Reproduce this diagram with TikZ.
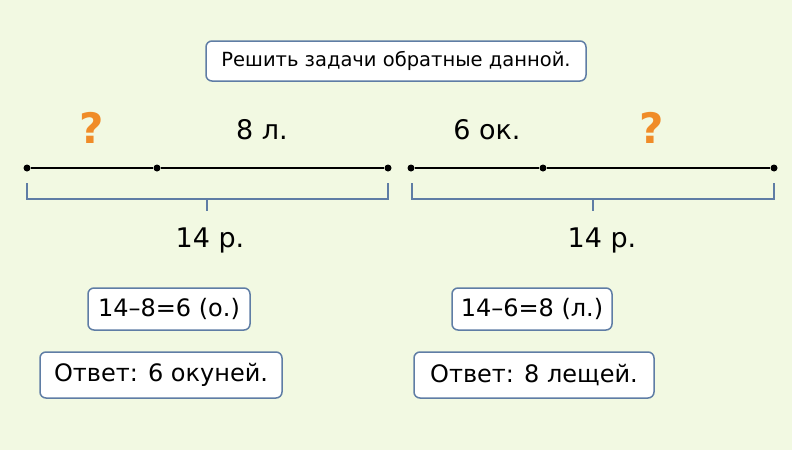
\documentclass[tikz,border=0pt]{standalone}
\usepackage{fontspec}
\setmainfont{DejaVu Sans}
\usetikzlibrary{positioning}
\definecolor{bg}{RGB}{242,249,226}
\definecolor{frame}{RGB}{95,125,165}
\definecolor{qcol}{RGB}{240,140,40}
\tikzset{
  box/.style={draw=frame,line width=1.5pt,fill=white,rounded corners=6pt,inner sep=4pt,font=\fontsize{24}{26}\selectfont},
  lbl/.style={font=\fontsize{27}{30}\selectfont},
  pt/.style={circle,fill=black,inner sep=0pt,minimum size=7pt},
  quest/.style={text=qcol,font=\bfseries\fontsize{42}{44}\selectfont},
  brace/.style={draw=frame,line width=1.8pt}
}
\begin{document}
\begin{tikzpicture}[x=1pt,y=-1pt]
\fill[bg] (0,0) rectangle (792,450);
\useasboundingbox (0,0) rectangle (792,450);

% Title
\node[box,font=\fontsize{19.5}{22}\selectfont,minimum width=380pt,minimum height=40pt] (title) at (396,61) {Решить задачи обратные данной.};

% Left segment
\node[pt] (a1) at (27,168) {};
\node[pt] (a2) at (157,168) {};
\node[pt] (a3) at (388,168) {};
\draw[line width=1.8pt] (a1) -- (a2) -- (a3);
\node[quest] (qa) at (92,128) {?};
\node[lbl] (la) at (262,130) {8 л.};
\draw[brace] (27,183) |- (207,199) -- (388,199) -- (388,183);
\draw[brace] (207,199) -- (207,211);
\node[lbl] (sa) at (210,240) {14 р.};

% Right segment
\node[pt] (b1) at (411,168) {};
\node[pt] (b2) at (543,168) {};
\node[pt] (b3) at (774,168) {};
\draw[line width=1.8pt] (b1) -- (b2) -- (b3);
\node[lbl] (lb) at (487,130) {6 ок.};
\node[quest] (qb) at (652,128) {?};
\draw[brace] (412,183) |- (593,199) -- (774,199) -- (774,183);
\draw[brace] (593,199) -- (593,211);
\node[lbl] (sb) at (602,240) {14 р.};

% Solutions
\node[box,minimum width=162pt,minimum height=42pt] (ca) at (169,309) {14–8=6 (о.)};
\node[box,minimum width=242pt,minimum height=46pt] (ra) at (161,375) {Ответ: 6 окуней.};
\node[box,minimum width=160pt,minimum height=42pt] (cb) at (532,309) {14–6=8 (л.)};
\node[box,minimum width=240pt,minimum height=46pt] (rb) at (534,375) {Ответ: 8 лещей.};
\end{tikzpicture}
\end{document}
